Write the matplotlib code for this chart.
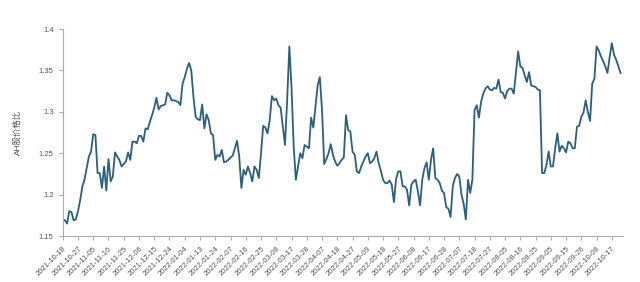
import matplotlib
matplotlib.use("Agg")
import matplotlib.pyplot as plt
from matplotlib.ticker import FormatStrFormatter

# AH price ratio, one value per trading day
ratio = [
    1.170, 1.169, 1.165, 1.180, 1.179, 1.169, 1.170, 1.180, 1.193, 1.210,
    1.218, 1.232, 1.246, 1.252, 1.273, 1.272, 1.226, 1.226, 1.208, 1.234,
    1.205, 1.243, 1.216, 1.222, 1.251, 1.246, 1.242, 1.234, 1.237, 1.240,
    1.251, 1.242, 1.264, 1.264, 1.262, 1.271, 1.271,
    1.264, 1.280, 1.279, 1.288, 1.296, 1.305, 1.317, 1.303, 1.307, 1.308,
    1.309, 1.323, 1.320, 1.314, 1.314, 1.313, 1.312, 1.308, 1.334, 1.342,
    1.352, 1.359, 1.350, 1.318, 1.294, 1.291, 1.290, 1.309, 1.280, 1.297,
    1.290, 1.274, 1.272, 1.242, 1.248, 1.246,
    1.254, 1.239, 1.240, 1.242, 1.245, 1.247, 1.256, 1.265, 1.246, 1.208,
    1.230, 1.224, 1.234, 1.226, 1.216, 1.234, 1.230, 1.220, 1.250, 1.283,
    1.281, 1.274, 1.290, 1.319, 1.314, 1.316, 1.308, 1.305, 1.282, 1.260,
    1.314, 1.379, 1.330, 1.258, 1.218, 1.234, 1.250,
    1.244, 1.260, 1.258, 1.256, 1.293, 1.281, 1.306, 1.332, 1.342, 1.302,
    1.237, 1.243, 1.250, 1.261, 1.248, 1.240, 1.235, 1.238, 1.242, 1.245,
    1.296, 1.278, 1.276, 1.252, 1.248, 1.228, 1.226, 1.234, 1.240, 1.246,
    1.250, 1.238, 1.240, 1.244, 1.252, 1.238, 1.229,
    1.218, 1.214, 1.214, 1.217, 1.212, 1.191, 1.219, 1.228, 1.228, 1.210,
    1.210, 1.206, 1.187, 1.212, 1.216, 1.218, 1.204, 1.187, 1.218, 1.232,
    1.239, 1.218, 1.242, 1.256, 1.220, 1.218, 1.214, 1.205, 1.202, 1.185,
    1.183, 1.173, 1.210, 1.220, 1.225, 1.222, 1.200,
    1.189, 1.170, 1.218, 1.202, 1.218, 1.302, 1.308, 1.293, 1.312, 1.322,
    1.328, 1.331, 1.327, 1.326, 1.329, 1.328, 1.339, 1.324, 1.323, 1.316,
    1.325, 1.328, 1.328, 1.322, 1.348, 1.373, 1.355, 1.353, 1.344, 1.336,
    1.348, 1.332, 1.331, 1.330, 1.327, 1.326,
    1.226, 1.226, 1.236, 1.252, 1.234, 1.234, 1.256, 1.274, 1.252, 1.259,
    1.256, 1.251, 1.264, 1.262, 1.256, 1.256, 1.282, 1.283, 1.294, 1.299,
    1.314, 1.300, 1.289, 1.334, 1.340, 1.379, 1.374, 1.367, 1.361, 1.355,
    1.347, 1.366, 1.383, 1.369, 1.363, 1.355, 1.347,
]

# every 7th trading day gets a label
tick_labels = [
    "2021-10-18", "2021-10-27", "2021-11-05", "2021-11-16", "2021-11-25",
    "2021-12-06", "2021-12-15", "2021-12-24", "2022-01-04", "2022-01-13",
    "2022-01-24", "2022-02-07", "2022-02-16", "2022-02-25", "2022-03-08",
    "2022-03-17", "2022-03-28", "2022-04-07", "2022-04-18", "2022-04-27",
    "2022-05-09", "2022-05-18", "2022-05-27", "2022-06-08", "2022-06-17",
    "2022-06-28", "2022-07-07", "2022-07-18", "2022-07-27", "2022-08-05",
    "2022-08-16", "2022-08-25", "2022-09-05", "2022-09-15", "2022-09-26",
    "2022-10-08", "2022-10-17",
]
tick_step = 7
y_ticks = [1.15, 1.2, 1.25, 1.3, 1.35, 1.4]

plt.rcParams['font.family'] = ['Liberation Sans', 'Noto Sans CJK SC', 'DejaVu Sans']

fig = plt.figure(figsize=(6.4, 2.82), dpi=100)
ax = fig.add_axes([0.098, 0.163, 0.875, 0.734])

x = list(range(len(ratio)))
ax.plot(x, ratio, color="#2c5f7c", lw=1.3)

ax.set_xlim(0, len(ratio))
ax.set_ylim(1.15, 1.4)
ax.set_yticks(y_ticks)
ax.yaxis.set_major_formatter(FormatStrFormatter('%g'))
ax.set_xticks([i * tick_step for i in range(len(tick_labels))])
ax.set_xticklabels(tick_labels, rotation=45, ha="right", rotation_mode="anchor")

for s in ["top", "right"]:
    ax.spines[s].set_visible(False)
for s in ["left", "bottom"]:
    ax.spines[s].set_color("#aaaaaa")
    ax.spines[s].set_linewidth(0.8)
ax.tick_params(colors="#aaaaaa", labelcolor="#555555", labelsize=5.5,
               length=3, width=0.7)

ax.set_ylabel("AH股价格比", fontsize=6, color="#555555", labelpad=12)

fig.savefig("out.png", dpi=100)
